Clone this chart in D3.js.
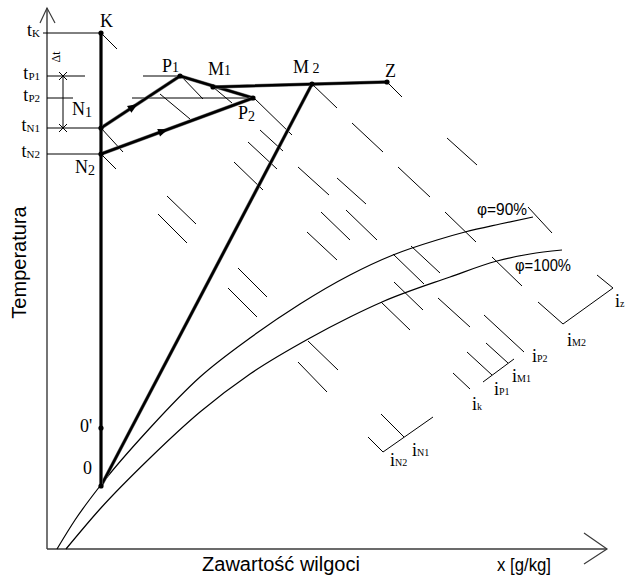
<!DOCTYPE html>
<html><head><meta charset="utf-8">
<script src="https://cdnjs.cloudflare.com/ajax/libs/d3/7.8.5/d3.min.js"></script>
<style>body{margin:0;background:#fff}</style>
</head><body><svg id="c" width="627" height="579"></svg>
<script>
// ---------- DATA (diagram units: x = moisture, y = temperature) ----------
const xDomain = [0, 112];
const yDomain = [0, 108];

const pointIds = ["K", "P1", "M1", "P2", "M2", "Z", "N1", "N2", "O", "O'"];
const pointX   = [10.8, 26.6, 33.2, 41.2, 53.0, 68.0, 10.8, 10.8, 10.8, 10.8];
const pointY   = [103.2, 94.6, 92.4, 90.2, 93.0, 93.4, 84.2, 79.0, 12.6, 24.2];

const processFrom = ["N1", "P1", "N2", "M1", "M2", "O"];
const processTo   = ["P1", "P2", "P2", "Z",  "O",  "K"];
const arrowOn     = [true, false, true, false, false, false];

const tempNames = ["K", "P1", "P2", "N1", "N2"];
const tempLevel = [103.2, 94.6, 90.2, 84.2, 79.0];
const tempLineStart = [-0.8, 0, 0, 0, 0];
const tempLineEnd   = [10.8, 7.6, 5.2, 10.8, 10.8];

const isoFrom = [19.2, 17.0];
const isoTo   = [26.6, 41.2];
const isoLevel = [94.6, 90.2];

const phi90x  = [2.0, 5.6, 10.6, 20.6, 30.6, 40.6, 50.6, 60.6, 69.2, 78.0, 83.6, 90.6, 97.2];
const phi90y  = [0, 5.8, 12.6, 24.2, 34.4, 42.2, 49.0, 54.8, 58.8, 61.8, 63.4, 65.0, 66.4];
const phi100x = [3.8, 10.6, 20.6, 30.6, 40.6, 52.6, 60.6, 67.0, 80.6, 90.0, 96.6, 103.0];
const phi100y = [0, 8.0, 18.2, 27.4, 35.0, 42.2, 46.4, 49.4, 54.4, 57.6, 59.0, 59.8];

// enthalpy line fragments [x1, y1, x2, y2]
const enthalpyTicks = [
  [10.8,103.2,14.0,100.0],[26.6,94.8,31.2,90.0],[33.2,92.4,37.0,89.2],[41.2,90.4,49.0,82.8],
  [53.0,93.0,58.0,88.2],[68.0,93.4,71.0,90.4],[10.8,84.2,15.2,79.4],[10.8,79.0,13.8,76.0],
  [22.6,91.0,28.6,86.0],[42.6,83.8,47.2,79.6],[40.2,81.4,46.0,76.0],[37.4,77.4,43.2,71.8],
  [50.2,76.4,56.4,70.8],[58.0,74.2,63.8,69.0],[54.8,67.4,60.6,61.8],[52.0,63.4,58.0,57.8],
  [59.8,67.8,66.0,61.8],[24.0,70.6,29.8,65.0],[22.2,67.0,28.0,61.2],[38.2,56.2,44.0,50.4],
  [36.2,52.2,42.0,46.4],[61.0,85.2,67.2,79.4],[80.0,82.2,86.0,76.8],[70.2,76.4,76.6,70.4],
  [79.6,67.4,85.8,61.4],[96.2,68.4,101.0,63.2],[72.8,60.6,78.6,55.2],[69.2,59.0,75.4,53.0],
  [69.4,53.4,75.2,47.8],[66.8,49.4,72.6,43.8],[89.0,58.4,95.0,52.6],[78.2,50.2,84.6,44.4],
  [52.2,41.6,58.2,35.8],[50.2,37.4,56.0,31.4],
  [67.2,19.4,77.2,26.4],[103.2,45.0,113.2,52.2],[87.2,33.4,93.4,38.0]
];
// labelled enthalpy lines
const iNames = ["P2", "M1", "P1", "k", "N1", "N2", "M2", "Z"];
const iLines = [
  [87.4,46.8,95.4,39.4],[87.8,41.2,92.2,37.2],[84.0,39.4,89.0,34.8],[81.2,35.2,84.6,32.0],
  [66.8,27.0,71.4,22.4],[64.2,22.4,67.2,19.4],[98.2,49.4,103.2,45.0],[110.0,54.8,113.2,52.2]
];

// ---------- LAYOUT ----------
const svg = d3.select("#c");
const x = d3.scaleLinear().domain(xDomain).range([47, 607]);
const y = d3.scaleLinear().domain(yDomain).range([549, 9]);
const P = {};
pointIds.forEach((id, i) => P[id] = {x: pointX[i], y: pointY[i]});
const serif = "'Liberation Serif','Times New Roman',serif";
const sans = "'Liberation Sans',Arial,sans-serif";

// axes
const axisCol = "#3a3a3a";
svg.append("line").attr("x1", x(0)).attr("y1", y(0)).attr("x2", x(0)).attr("y2", y(108.2))
  .attr("stroke", axisCol).attr("stroke-width", 1.4);
svg.append("polyline").attr("points", [[x(0)-7, y(108.2)+15],[x(0), y(108.2)],[x(0)+8, y(108.2)+15]].join(" "))
  .attr("fill", "none").attr("stroke", axisCol).attr("stroke-width", 1.2);
svg.append("line").attr("x1", x(0)).attr("y1", y(0)).attr("x2", x(112)).attr("y2", y(0))
  .attr("stroke", axisCol).attr("stroke-width", 1.4);
svg.append("polyline").attr("points", [[x(112)-23, y(0)-16],[x(112), y(0)],[x(112)-23, y(0)+15]].join(" "))
  .attr("fill", "none").attr("stroke", axisCol).attr("stroke-width", 1.2);

// axis titles
svg.append("text").attr("transform", `translate(26,262.5) rotate(-90)`)
  .attr("text-anchor", "middle").attr("font-family", sans).attr("font-size", 20).text("Temperatura");
svg.append("text").attr("x", 281).attr("y", 571).attr("text-anchor", "middle")
  .attr("font-family", sans).attr("font-size", 20).text("Zawartość wilgoci");
svg.append("text").attr("x", 497).attr("y", 571).attr("font-family", sans).attr("font-size", 19)
  .attr("textLength", 54).attr("lengthAdjust", "spacingAndGlyphs").text("x [g/kg]");

// temperature level lines and labels
tempNames.forEach((n, i) => {
  svg.append("line").attr("x1", x(tempLineStart[i])).attr("x2", x(tempLineEnd[i]))
    .attr("y1", y(tempLevel[i])).attr("y2", y(tempLevel[i])).attr("stroke", "#000").attr("stroke-width", 1);
  const t = svg.append("text").attr("x", 40).attr("y", y(tempLevel[i]) + 3)
    .attr("text-anchor", "end").attr("font-family", serif).attr("font-size", 18);
  t.append("tspan").text("t");
  t.append("tspan").attr("font-size", 11).attr("dy", 1).text(n);
});
isoLevel.forEach((v, i) => {
  svg.append("line").attr("x1", x(isoFrom[i])).attr("x2", x(isoTo[i]))
    .attr("y1", y(v)).attr("y2", y(v)).attr("stroke", "#000").attr("stroke-width", 1);
});

// Δt marker
const dtX = x(3.2);
svg.append("line").attr("x1", dtX).attr("x2", dtX).attr("y1", y(tempLevel[1])).attr("y2", y(tempLevel[3]))
  .attr("stroke", "#000").attr("stroke-width", 1);
[tempLevel[1], tempLevel[3]].forEach(v => {
  const cy = y(v);
  svg.append("path").attr("d", `M${dtX-4},${cy-4}L${dtX+4},${cy+4}M${dtX-4},${cy+4}L${dtX+4},${cy-4}`)
    .attr("stroke", "#000").attr("stroke-width", 1);
});
svg.append("text").attr("transform", `translate(60,57) rotate(-90)`).attr("text-anchor", "middle")
  .attr("font-family", serif).attr("font-size", 12).text("Δt");

// saturation curves
const curve = d3.line().x(d => x(d[0])).y(d => y(d[1])).curve(d3.curveMonotoneX);
svg.append("path").attr("d", curve(phi90x.map((v, i) => [v, phi90y[i]])))
  .attr("fill", "none").attr("stroke", "#000").attr("stroke-width", 1.2);
svg.append("path").attr("d", curve(phi100x.map((v, i) => [v, phi100y[i]])))
  .attr("fill", "none").attr("stroke", "#000").attr("stroke-width", 1.2);
const e90 = [phi90x[phi90x.length-1], phi90y[phi90y.length-1]];
const e100 = [phi100x[phi100x.length-1], phi100y[phi100y.length-1]];
svg.append("text").attr("x", x(e90[0]) - 56).attr("y", y(e90[1]) - 2).attr("font-family", sans)
  .attr("font-size", 17).attr("textLength", 50).attr("lengthAdjust", "spacingAndGlyphs").text("φ=90%");
svg.append("text").attr("x", x(e100[0]) - 47).attr("y", y(e100[1]) + 21).attr("font-family", sans)
  .attr("font-size", 17).attr("textLength", 56).attr("lengthAdjust", "spacingAndGlyphs").text("φ=100%");

// enthalpy ticks
svg.selectAll("line.tick").data(enthalpyTicks.concat(iLines)).enter().append("line")
  .attr("x1", d => x(d[0])).attr("y1", d => y(d[1])).attr("x2", d => x(d[2])).attr("y2", d => y(d[3]))
  .attr("stroke", "#000").attr("stroke-width", 1);

const iOff = [[8,10],[4,19],[2,20],[2,21],[8,19],[7,14],[4,22],[2,19]];
iNames.forEach((n, i) => {
  const l = iLines[i];
  const t = svg.append("text").attr("x", x(l[2]) + iOff[i][0]).attr("y", y(l[3]) + iOff[i][1])
    .attr("font-family", serif).attr("font-size", 18);
  t.append("tspan").text("i");
  t.append("tspan").attr("font-size", 10).attr("dy", 0).text(n === "Z" ? "z" : n);
});

// process lines
processFrom.forEach((f, i) => {
  const a = P[f], b = P[processTo[i]];
  svg.append("line").attr("x1", x(a.x)).attr("y1", y(a.y)).attr("x2", x(b.x)).attr("y2", y(b.y))
    .attr("stroke", "#777").attr("stroke-width", 3.6).attr("stroke-linecap", "round");
  svg.append("line").attr("x1", x(a.x)).attr("y1", y(a.y)).attr("x2", x(b.x)).attr("y2", y(b.y))
    .attr("stroke", "#000").attr("stroke-width", 2.6).attr("stroke-linecap", "round");
  if (arrowOn[i]) {
    const t = 0.41;
    const mx = x(a.x) + (x(b.x) - x(a.x)) * t, my = y(a.y) + (y(b.y) - y(a.y)) * t;
    const ang = Math.atan2(y(b.y) - y(a.y), x(b.x) - x(a.x)) * 180 / Math.PI;
    svg.append("path").attr("d", "M5,0L-5,-4L-5,4Z").attr("fill", "#000")
      .attr("transform", `translate(${mx},${my}) rotate(${ang})`);
  }
});

// state points
svg.selectAll("circle.pt").data(pointIds).enter().append("circle")
  .attr("cx", d => x(P[d].x)).attr("cy", d => y(P[d].y)).attr("r", 2.6).attr("fill", "#000");

// point labels
const lab = [
  ["K", "K", "", -1, -6, 0], ["P1", "P", "1", -18, -4, 0], ["M1", "M", "1", -5, -12, 0],
  ["M2", "M", " 2", -19, -11, 0], ["Z", "Z", "", -2, -5, 0], ["P2", "P", "2", -15, 21, 2],
  ["N1", "N", "1", -29, -13, 2], ["N2", "N", "2", -26, 19, 2], ["O'", "0'", "", -21, 4, 0],
  ["O", "0", "", -18, -12, 0]
];
lab.forEach(l => {
  const p = P[l[0]];
  const t = svg.append("text").attr("x", x(p.x) + l[3]).attr("y", y(p.y) + l[4])
    .attr("font-family", serif).attr("font-size", 18);
  t.append("tspan").text(l[1]);
  if (l[2]) t.append("tspan").attr("font-size", 14).attr("dy", l[5]).text(l[2]);
});
</script></body></html>
